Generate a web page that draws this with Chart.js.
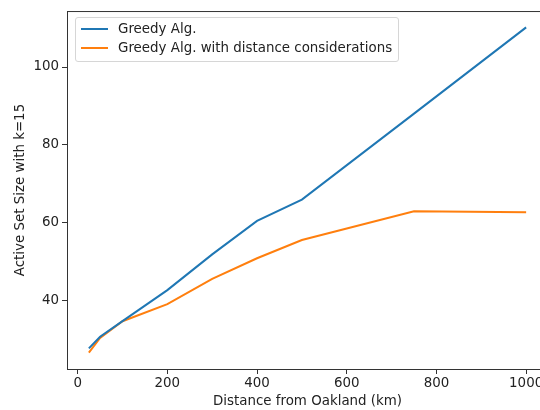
<!DOCTYPE html>
<html>
<head>
<meta charset="utf-8">
<script src="https://cdn.jsdelivr.net/npm/chart.js@4.4.1/dist/chart.umd.min.js"></script>
<style>
    body { margin: 0; width: 540px; height: 410px; overflow: hidden; background: #fff; position: relative; }
    #wrap { position: absolute; left: 0; top: 0; width: 560px; height: 410px; }
    #legend {
        position: absolute; left: 75px; top: 17px; width: 322px; height: 43px;
        border: 1px solid #d6d6d6; border-radius: 3px; background: rgba(255,255,255,0.8);
        font-family: "DejaVu Sans"; font-size: 13.4px; color: #222;
    }
    .row { position: absolute; left: 0; height: 18px; line-height: 18px; white-space: nowrap; }
    .row span.ln { position: absolute; left: 5px; top: 8px; width: 27px; height: 2px; }
    .row span.tx { position: absolute; left: 42px; top: 0; }
</style>
</head>
<body>
<div id="wrap"><canvas id="chart" width="560" height="410"></canvas></div>
<div id="legend">
    <div class="row" style="top:2px"><span class="ln" style="background:#1f77b4"></span><span class="tx">Greedy Alg.</span></div>
    <div class="row" style="top:21px"><span class="ln" style="background:#ff7f0e"></span><span class="tx">Greedy Alg. with distance considerations</span></div>
</div>
<script>
// datos
const distancias = [25, 50, 100, 200, 300, 400, 500, 750, 1000];
const greedy = [27.6, 30.6, 34.6, 42.6, 51.8, 60.4, 65.9, 88.0, 110.2];
const greedyDistancia = [26.5, 30.3, 34.6, 39.0, 45.5, 50.8, 55.5, 62.9, 62.6];
const xTicks = [0, 200, 400, 600, 800, 1000];
const yTicks = [40, 60, 80, 100];

const fuente = { family: 'DejaVu Sans', size: 13.4 };

// marco superior y derecho como en matplotlib
const marco = {
    id: 'marco',
    afterDraw(chart) {
        const { ctx, chartArea: a } = chart;
        ctx.save();
        ctx.strokeStyle = '#333';
        ctx.lineWidth = 1;
        ctx.beginPath();
        ctx.moveTo(a.left, a.top + 0.5);
        ctx.lineTo(a.right, a.top + 0.5);
        ctx.lineTo(a.right, a.bottom);
        ctx.stroke();
        ctx.restore();
    }
};

new Chart(document.getElementById('chart'), {
    type: 'line',
    data: {
        datasets: [{
            label: 'Greedy Alg.',
            data: distancias.map((d, i) => ({ x: d, y: greedy[i] })),
            borderColor: '#1f77b4',
            borderWidth: 2,
            pointRadius: 0,
            tension: 0
        }, {
            label: 'Greedy Alg. with distance considerations',
            data: distancias.map((d, i) => ({ x: d, y: greedyDistancia[i] })),
            borderColor: '#ff7f0e',
            borderWidth: 2,
            pointRadius: 0,
            tension: 0
        }]
    },
    options: {
        responsive: false,
        animation: false,
        layout: { padding: { top: 10, right: 12, left: 0, bottom: 0 } },
        plugins: { legend: { display: false }, tooltip: { enabled: false } },
        scales: {
            x: {
                type: 'linear',
                min: -23.75,
                max: 1048.75,
                afterBuildTicks: s => { s.ticks = xTicks.map(v => ({ value: v })); },
                afterFit: s => { s.height = 41; },
                grid: { drawOnChartArea: false, tickLength: 5, tickColor: '#333' },
                border: { color: '#333', width: 1 },
                ticks: { font: fuente, color: '#222', padding: 1, maxRotation: 0, callback: v => String(v) },
                title: { display: true, text: 'Distance from Oakland (km)', font: fuente, color: '#222', padding: { top: 0, bottom: 0 } }
            },
            y: {
                min: 22.3,
                max: 114.4,
                afterBuildTicks: s => { s.ticks = yTicks.map(v => ({ value: v })); },
                afterFit: s => { s.width = 67; },
                grid: { drawOnChartArea: false, tickLength: 5, tickColor: '#333' },
                border: { color: '#333', width: 1 },
                ticks: { font: fuente, color: '#222', padding: 3, callback: v => String(v) },
                title: { display: true, text: 'Active Set Size with k=15', font: fuente, color: '#222', padding: { top: 12, bottom: 0 } }
            }
        }
    },
    plugins: [marco]
});
</script>
</body>
</html>
